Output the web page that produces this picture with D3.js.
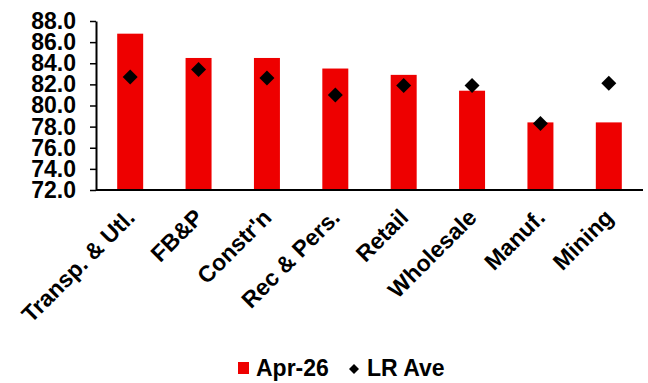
<!DOCTYPE html>
<html>
<head>
<meta charset="utf-8">
<script src="https://cdn.jsdelivr.net/npm/d3@7"></script>
<style>
  body { margin: 0; background: #fff; }
  svg { display: block; font-family: "Liberation Sans", Arial, sans-serif; font-weight: bold; }
</style>
</head>
<body>
<div id="chart"></div>
<script>
// sectors, ordered as in the chart
const categories = ['Transp. & Utl.', 'FB&P', "Constr'n", 'Rec & Pers.', 'Retail', 'Wholesale', 'Manuf.', 'Mining'];
const apr26 = [86.8, 84.5, 84.5, 83.5, 82.9, 81.4, 78.4, 78.4];
const lrAve = [82.7, 83.4, 82.6, 81.0, 81.9, 81.9, 78.3, 82.1];
const yTicks = [72, 74, 76, 78, 80, 82, 84, 86, 88];
const seriesNames = ['Apr-26', 'LR Ave'];

const width = 648, height = 383;
const plot = { left: 96, right: 643, top: 21, bottom: 190 };
const red = '#ee0000';
const fontFamily = '"Liberation Sans", Arial, sans-serif';

const svg = d3.select('#chart').append('svg')
    .attr('width', width)
    .attr('height', height);

const x = d3.scaleBand()
    .domain(categories)
    .range([plot.left, plot.right])
    .paddingInner(0.62)
    .paddingOuter(0.31);

const y = d3.scaleLinear()
    .domain([72, 88])
    .range([plot.bottom, plot.top]);

// bars
svg.append('g')
    .selectAll('rect')
    .data(categories)
    .join('rect')
    .attr('x', d => x(d))
    .attr('y', (d, i) => y(apr26[i]))
    .attr('width', x.bandwidth())
    .attr('height', (d, i) => y(72) - y(apr26[i]))
    .attr('fill', red);

// LR average markers
const diamond = d3.symbol(d3.symbolSquare, 112);
svg.append('g')
    .selectAll('path')
    .data(categories)
    .join('path')
    .attr('d', diamond)
    .attr('transform', (d, i) => `translate(${x(d) + x.bandwidth() / 2},${y(lrAve[i])}) rotate(45)`)
    .attr('fill', '#000');

// y axis
const yAxis = svg.append('g')
    .attr('transform', `translate(${plot.left},0)`)
    .call(d3.axisLeft(y).tickValues(yTicks).tickFormat(d3.format('.1f')).tickSize(6).tickSizeOuter(0));
yAxis.select('.domain').attr('stroke', '#000').attr('stroke-width', 2);
yAxis.selectAll('.tick line').attr('stroke', '#000').attr('stroke-width', 1.5);
yAxis.selectAll('.tick text')
    .attr('x', -20)
    .attr('fill', '#000')
    .style('font-size', '23px')
    .style('font-weight', 'bold')
    .style('font-family', fontFamily);

// x axis
const xAxis = svg.append('g')
    .attr('transform', `translate(0,${plot.bottom})`)
    .call(d3.axisBottom(x).tickSize(0).tickSizeOuter(0));
xAxis.select('.domain')
    .attr('stroke', '#000')
    .attr('stroke-width', 2)
    .attr('d', `M${plot.left},0H${plot.right}`);
xAxis.selectAll('.tick text')
    .attr('fill', '#000')
    .attr('text-anchor', 'end')
    .attr('dy', null)
    .attr('y', 0)
    .attr('transform', 'translate(6,29) rotate(-45)')
    .style('font-size', '23px')
    .style('font-weight', 'bold')
    .style('font-family', fontFamily);

// legend
const legend = svg.append('g').style('font-size', '23px');
legend.append('rect')
    .attr('x', 238).attr('y', 362)
    .attr('width', 11).attr('height', 12)
    .attr('fill', red);
legend.append('text')
    .attr('x', 256).attr('y', 376)
    .text(seriesNames[0]);
legend.append('path')
    .attr('d', d3.symbol(d3.symbolSquare, 50))
    .attr('transform', 'translate(354,369) rotate(45)')
    .attr('fill', '#000');
legend.append('text')
    .attr('x', 367).attr('y', 376)
    .text(seriesNames[1]);
</script>
</body>
</html>
